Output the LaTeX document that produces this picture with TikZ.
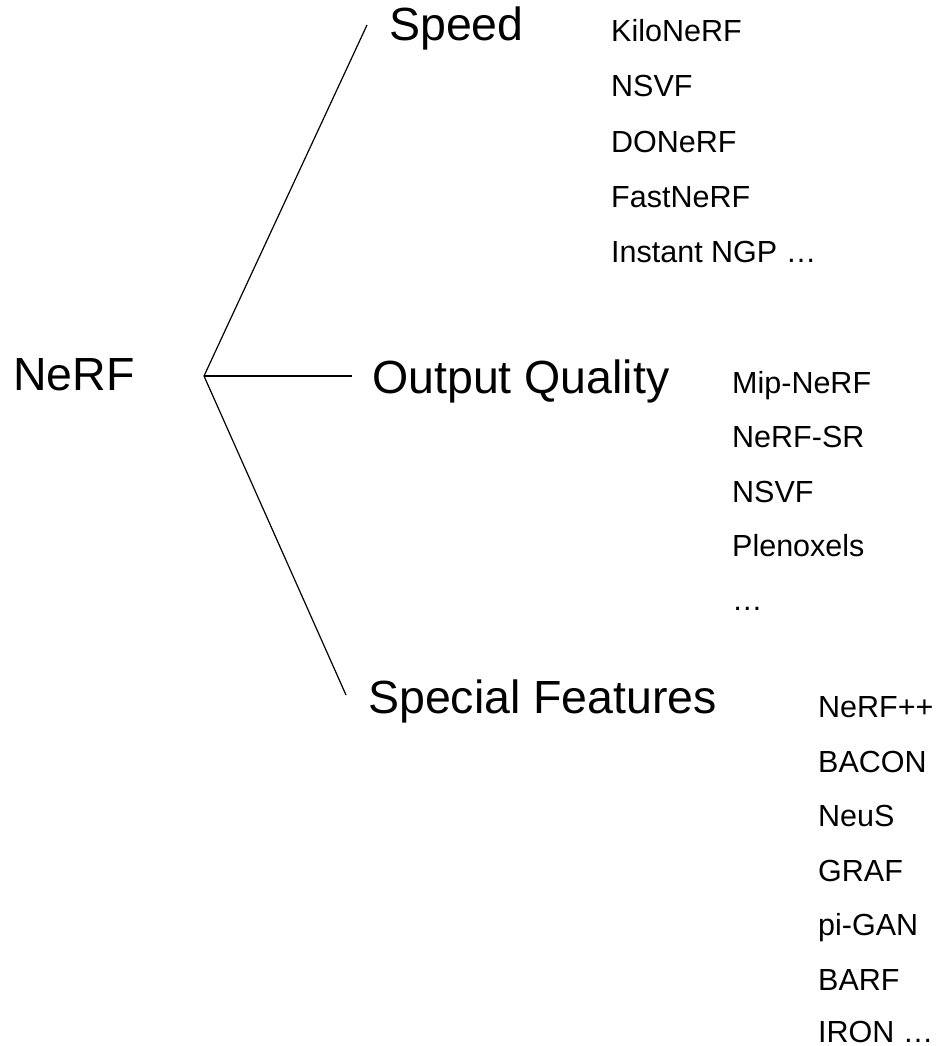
\documentclass[tikz,border=0pt]{standalone}
\usepackage{fontspec}
\setmainfont{Liberation Sans}
\begin{document}
\begin{tikzpicture}[x=1pt,y=-1pt,
  big/.style={anchor=base west,inner sep=0pt,font=\fontsize{46.5}{50}\selectfont},
  small/.style={anchor=base west,inner sep=0pt,font=\fontsize{30.5}{34}\selectfont},
  branch/.style={draw=black,line width=1.2pt}]
\useasboundingbox (0,0) rectangle (937,1046);

% root and the three branches
\node[big] (root) at (13,390) {NeRF};
\coordinate (fork) at (204,376);
\node[big] (speed) at (389,41) {Speed};
\node[big] (quality) at (372,393) {Output Quality};
\node[big] (special) at (368,713) {Special Features};

\coordinate (speedend) at (367,25);
\coordinate (qualityend) at (352,376);
\coordinate (specialend) at (346,695);

\draw[branch] (speedend) -- (fork) -- (specialend);
\draw[branch] (fork) -- (qualityend);

% methods for speed
\node[small] (s1) at (611,42) {KiloNeRF};
\node[small] (s2) at (611,97) {NSVF};
\node[small] (s3) at (611,152) {DONeRF};
\node[small] (s4) at (611,207) {FastNeRF};
\node[small] (s5) at (611,262) {Instant NGP …};

% methods for output quality
\node[small] (q1) at (732,393) {Mip-NeRF};
\node[small] (q2) at (732,447) {NeRF-SR};
\node[small] (q3) at (732,502) {NSVF};
\node[small] (q4) at (732,556) {Plenoxels};
\node[small] (q5) at (732,610) {…};

% methods for special features
\node[small] (f1) at (818,717) {NeRF++};
\node[small] (f2) at (818,772) {BACON};
\node[small] (f3) at (818,826) {NeuS};
\node[small] (f4) at (818,881) {GRAF};
\node[small] (f5) at (818,935) {pi-GAN};
\node[small] (f6) at (818,990) {BARF};
\node[small] (f7) at (818,1042) {IRON …};
\end{tikzpicture}
\end{document}
